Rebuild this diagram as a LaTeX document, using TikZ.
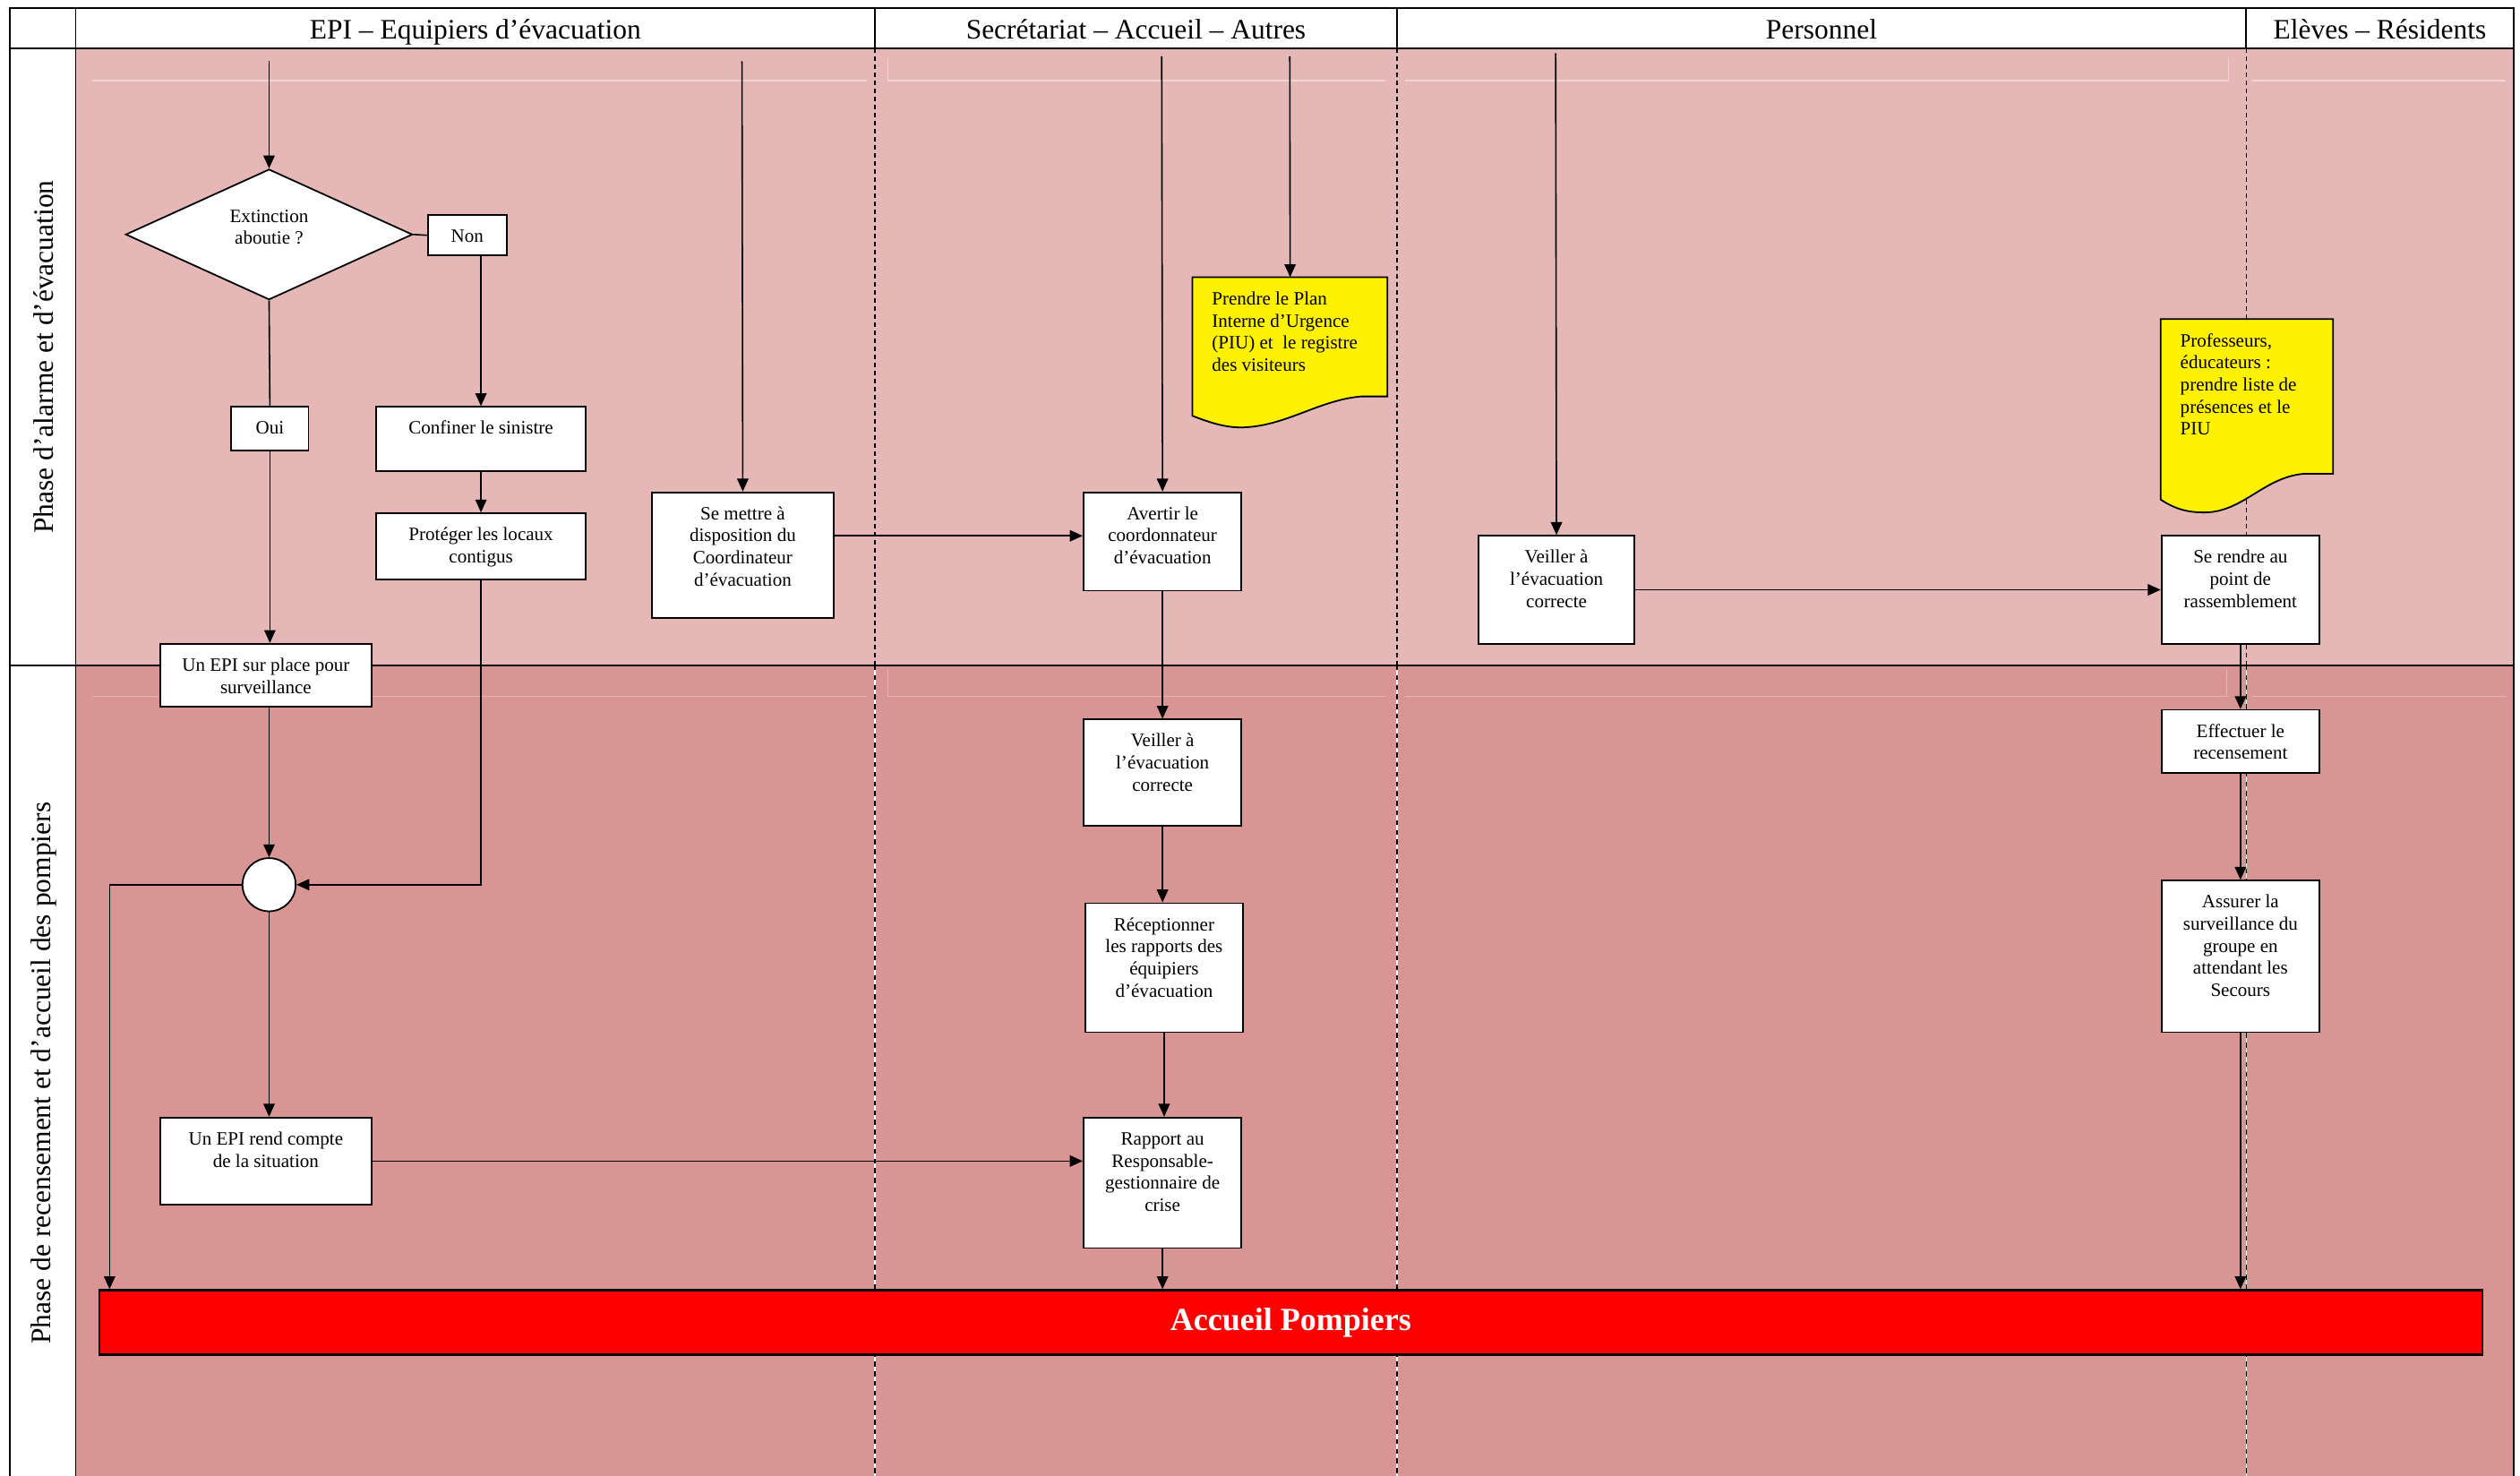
\documentclass[tikz,border=0pt]{standalone}
\usepackage{fontspec}
\setmainfont{Liberation Serif}
\usetikzlibrary{arrows.meta,shapes.geometric,calc}
\definecolor{phA}{HTML}{E5B8B7}
\definecolor{phB}{HTML}{D99594}
\definecolor{faintA}{HTML}{F1D4D4}
\definecolor{faintB}{HTML}{E8B4B4}
\newcommand\tb[3]{\parbox[c][#2pt][t]{#1pt}{\centering\rule{0pt}{17pt}#3\par}}
\newcommand\tl[3]{\parbox[c][#2pt][t]{#1pt}{\raggedright\leftskip=12pt\rule{0pt}{17pt}#3\par}}
\tikzset{
 box/.style={draw, line width=1pt, fill=white, inner sep=0pt, anchor=north west, font=\fontsize{11.7}{13.7}\selectfont},
 docbox/.style={inner sep=0pt, anchor=north west, font=\fontsize{11.7}{13.7}\selectfont},
 arr/.style={line width=0.9pt, -{Triangle[length=8pt,width=7pt]}},
 ln/.style={line width=0.9pt},
 hdr/.style={anchor=base, font=\fontsize{17.5}{20}\selectfont, inner sep=0pt},
 phase/.style={rotate=90, font=\fontsize{17.5}{20}\selectfont, inner sep=0pt},
 faint/.style={line width=0.6pt},
}
\begin{document}
\begin{tikzpicture}[x=1pt,y=-1pt]
\useasboundingbox (0,0) rectangle (1564,915.5);
\fill[white] (0,0) rectangle (1564,915.5);
\fill[phA] (47,30) rectangle (1560,413);
\fill[phB] (47,413) rectangle (1560,930);
% faint inner lines
\draw[faint, faintA] (57,50) -- (538,50) (551,36) -- (551,50) -- (860,50) (872,50) -- (1383,50) -- (1383,36) (1398,50) -- (1555,50);
\draw[faint, faintB] (57,432) -- (538,432) (551,415) -- (551,432) -- (860,432) (872,432) -- (1382,432) -- (1382,415) (1398,432) -- (1555,432);
% lane separators
\foreach \x in {543,867,1394} {
  \draw[black, line width=0.7pt, dash pattern=on 3pt off 2pt] (\x,30) -- (\x,413);
  \draw[white, line width=0.7pt] (\x,413) -- (\x,930);
  \draw[black, line width=0.7pt, dash pattern=on 3pt off 3pt] (\x,413) -- (\x,930);
  \draw[line width=0.8pt] (\x,5) -- (\x,30);
}
% frame
\draw[line width=1.3pt] (6,5) rectangle (1560,930);
\draw[line width=1.3pt] (6,30) -- (1560,30);
\draw[line width=1pt] (6,413) -- (1560,413);
\draw[line width=1pt] (47,5) -- (47,930);
% headers
\node[hdr] (h1) at (295,24) {EPI – Equipiers d’évacuation};
\node[hdr] (h2) at (705,24) {Secrétariat – Accueil – Autres};
\node[hdr] (h3) at (1130.5,24) {Personnel};
\node[hdr] (h4) at (1477,24) {Elèves – Résidents};
\node[phase] (p1) at (27,221.5) {Phase d’alarme et d’évacuation};
\node[phase] (p2) at (27,666) {Phase de recensement et d’accueil des pompiers};
% documents
\filldraw[fill=yellow, line width=1pt] (740,172) -- (861,172) -- (861,246) -- (845,246) .. controls (820,248) and (800,263) .. (775,265) .. controls (765,266) and (755,264) .. (740,258) -- cycle;
\node[docbox] (doc1) at (740,172) {\tl{121}{74}{Prendre le Plan\\Interne d’Urgence\\(PIU) et~ le registre\\des visiteurs}};
\filldraw[fill=yellow, line width=1pt] (1341,198) -- (1448,198) -- (1448,294) -- (1430,294) .. controls (1405,296) and (1392,318) .. (1368,318) .. controls (1358,318) and (1350,316) .. (1341,310) -- cycle;
\node[docbox] (doc2) at (1341,198) {\tl{107}{96}{Professeurs,\\éducateurs :\\prendre liste de\\présences et le\\PIU}};
% nodes
\node[diamond, draw, line width=1pt, fill=white, minimum width=178pt, minimum height=81pt, inner sep=0pt, align=center, text depth=9pt, font=\fontsize{11.7}{13.7}\selectfont] (ext) at (167,145.5) {Extinction\\aboutie ?};
\node[box] (non) at (265,133) {\tb{49}{25}{Non}};
\node[box] (oui) at (143,252) {\tb{48}{27}{Oui}};
\node[box] (conf) at (233,252) {\tb{130}{40}{Confiner le sinistre}};
\node[box] (prot) at (233,318) {\tb{130}{41}{Protéger les locaux\\contigus}};
\node[box] (epi1) at (99,399) {\tb{131}{39}{Un EPI sur place pour\\surveillance}};
\node[circle, draw, line width=1pt, fill=white, minimum size=33pt, inner sep=0pt] (circ) at (167,549) {};
\node[box] (epi2) at (99,693) {\tb{131}{54}{Un EPI rend compte\\de la situation}};
\node[box] (sem) at (404,305) {\tb{113}{78}{Se mettre à\\disposition du\\Coordinateur\\d’évacuation}};
\node[box] (avert) at (672,305) {\tb{98}{61}{Avertir le\\coordonnateur\\d’évacuation}};
\node[box] (veil1) at (672,446) {\tb{98}{66}{Veiller à\\l’évacuation\\correcte}};
\node[box] (recep) at (673,560) {\tb{98}{80}{Réceptionner\\les rapports des\\équipiers\\d’évacuation}};
\node[box] (rapp) at (672,693) {\tb{98}{81}{Rapport au\\Responsable-\\gestionnaire de\\crise}};
\node[box] (veil2) at (917,332) {\tb{97}{67}{Veiller à\\l’évacuation\\correcte}};
\node[box] (rendre) at (1341,332) {\tb{98}{67}{Se rendre au\\point de\\rassemblement}};
\node[box] (effect) at (1341,440) {\tb{98}{39}{Effectuer le\\recensement}};
\node[box] (assur) at (1341,546) {\tb{98}{94}{Assurer la\\surveillance du\\groupe en\\attendant les\\Secours}};
\node[draw, line width=1.2pt, fill=red, anchor=north west, minimum width=1479pt, minimum height=40pt, inner sep=0pt, text=white, font=\bfseries\fontsize{20}{24}\selectfont] (acc) at (61,800) {Accueil Pompiers};
% start points
\coordinate (s1) at (167,38);
\coordinate (s2) at (460.5,38);
\coordinate (s3) at (721,35);
\coordinate (s4) at (800.5,35);
\coordinate (s5) at (965.5,33);
\coordinate (aw) at ($(avert.west)+(0,-3.5)$);
\coordinate (accL) at ($(acc.north west)+(7,0)$);
% connectors
\draw[arr] (s1) -- (ext.north);
\draw[ln] (ext.east) -- (non.west);
\draw[arr] (non.south -| conf.north) -- (conf.north);
\draw[ln] (ext.south) -- (oui.north);
\draw[arr] (oui.south) -- (oui.south |- epi1.north);
\draw[arr] (conf.south) -- (prot.north);
\draw[arr] (prot.south) |- (circ.east);
\draw[arr] (circ.north |- epi1.south) -- (circ.north);
\draw[arr] (circ.west) -| (accL);
\draw[arr] (circ.south) -- (circ.south |- epi2.north);
\draw[arr] (epi2.east) -- (epi2.east -| rapp.west);
\draw[arr] (s2) -- (sem.north);
\draw[arr] (aw -| sem.east) -- (aw);
\draw[arr] (s3) -- (avert.north);
\draw[arr] (s4) -- (doc1.north);
\draw[arr] (avert.south) -- (veil1.north);
\draw[arr] (veil1.south) -- (veil1.south |- recep.north);
\draw[arr] (recep.south) -- (recep.south |- rapp.north);
\draw[arr] (rapp.south) -- (rapp.south |- acc.north);
\draw[arr] (s5) -- (veil2.north);
\draw[arr] (veil2.east) -- (rendre.west);
\draw[arr] (rendre.south) -- (effect.north);
\draw[arr] (effect.south) -- (assur.north);
\draw[arr] (assur.south) -- (assur.south |- acc.north);
\end{tikzpicture}
\end{document}
